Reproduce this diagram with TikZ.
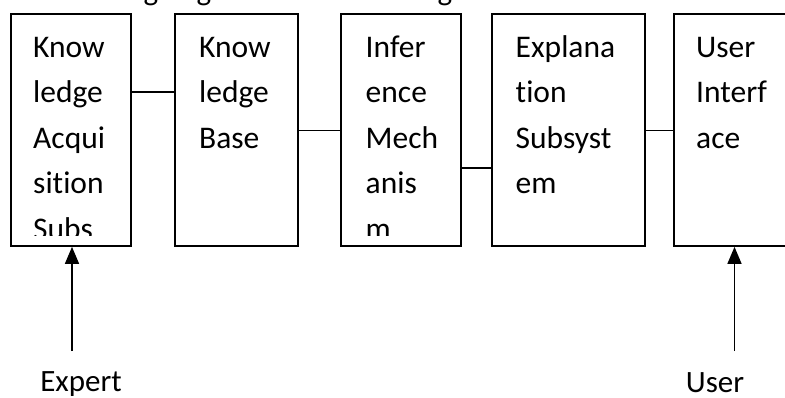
\documentclass[tikz,border=0pt]{standalone}
\usepackage{fontspec}
\setmainfont[Ligatures=NoCommon]{Carlito}
\usetikzlibrary{arrows.meta}
\begin{document}
\begin{tikzpicture}[x=1pt,y=-1pt,
  box/.style={draw=black, line width=1.7pt, inner sep=0pt},
  lbl/.style={font=\fontsize{31.5}{45.5}\selectfont, align=left, inner sep=0pt, anchor=north west, text=black},
  link/.style={line width=1.5pt},
  arr/.style={line width=1.5pt, -{Triangle[length=17pt,width=14pt]}},
  captxt/.style={font=\fontsize{31}{36}\selectfont, inner sep=0pt, anchor=base, text=black},
  ]
\useasboundingbox (0,0) rectangle (785,398);
\fill[white] (0,0) rectangle (785,398);

% fragments of a cut-off line above the picture
\node[captxt] (g1) at (151,1) {g};
\node[captxt] (g2) at (204,1) {g};
\node[captxt] (g3) at (445,1) {g};

% boxes
\node[box, minimum width=120, minimum height=232] (b1) at (71,130) {};
\node[box, minimum width=123, minimum height=232] (b2) at (236.5,130) {};
\node[box, minimum width=120.5, minimum height=232] (b3) at (401,130) {};
\node[box, minimum width=153, minimum height=232] (b4) at (568.5,130) {};
\node[box, minimum width=146, minimum height=232] (b5) at (747,130) {};

% texts, clipped at the bottom of each box
\begin{scope}
\clip (b1.north west) rectangle ([yshift=11pt]b1.south east);
\node[lbl] (t1) at (33,35) {\rule{0pt}{22pt}Know\\ledge\\Acqui\\sition\\Subs};
\end{scope}
\begin{scope}
\clip (b2.north west) rectangle ([yshift=11pt]b2.south east);
\node[lbl] (t2) at (199,35) {\rule{0pt}{22pt}Know\\ledge\\Base};
\end{scope}
\begin{scope}
\clip (b3.north west) rectangle ([yshift=11pt]b3.south east);
\node[lbl] (t3) at (365.5,35) {\rule{0pt}{22pt}Infer\\ence\\Mech\\anis\\m};
\end{scope}
\begin{scope}
\clip (b4.north west) rectangle ([yshift=11pt]b4.south east);
\node[lbl] (t4) at (515.5,35) {\rule{0pt}{22pt}Explana\\tion\\Subsyst\\em};
\end{scope}
\begin{scope}
\clip (b5.north west) rectangle ([yshift=11pt]b5.south east);
\node[lbl] (t5) at (696,35) {\rule{0pt}{22pt}User\\Interf\\ace};
\end{scope}

% connectors
\draw[link] (b1.east |- 0,92) -- (b2.west |- 0,92);
\draw[link] (b2.east |- 0,130.5) -- (b3.west |- 0,130.5);
\draw[link] (b3.east |- 0,168) -- (b4.west |- 0,168);
\draw[link] (b4.east |- 0,130.5) -- (b5.west |- 0,130.5);

% arrows
\coordinate (ex) at (72,351);
\coordinate (us) at (734.5,351);
\draw[arr] (ex) -- (ex |- b1.south);
\draw[arr] (us) -- (us |- b5.south);

\node[captxt] (expert) at (81,391) {Expert};
\node[captxt] (user) at (715,392) {User};
\end{tikzpicture}
\end{document}
